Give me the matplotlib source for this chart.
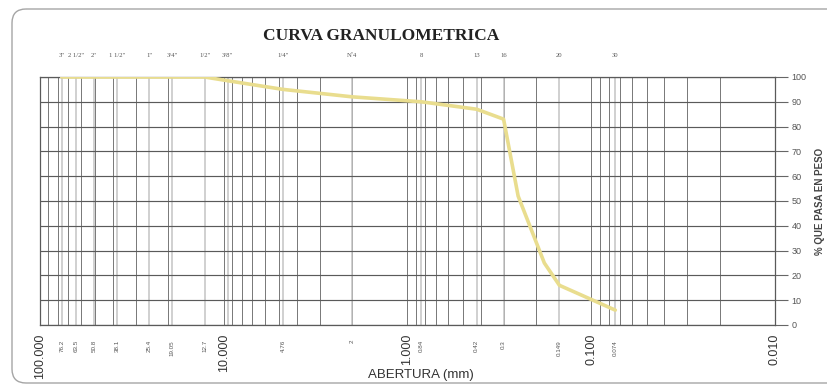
import numpy as np
import matplotlib
matplotlib.use("Agg")
import matplotlib.pyplot as plt
from matplotlib.patches import FancyBboxPatch
from matplotlib import transforms

# ---- data ----
sieve_mm = [76.2, 63.5, 50.8, 38.1, 25.4, 19.05, 12.7, 9.525, 4.76, 2.0, 0.84, 0.42, 0.3, 0.149, 0.074]
top_labels = ['3"', '2 1/2"', '2"', '1 1/2"', '1"', '3/4"', '1/2"', '3/8"', '1/4"', 'Nº4', '8', '13', '16', '20', '30']
bottom_labels = ['76.2', '63.5', '50.8', '38.1', '25.4', '19.05', '12.7', '', '4.76', '2', '0.84', '0.42', '0.3', '0.149', '0.074']

curve_mm = [76.2, 63.5, 50.8, 38.1, 25.4, 19.05, 12.7, 9.525, 4.76, 2.0, 0.84, 0.42, 0.3, 0.25, 0.18, 0.149, 0.074]
curve_pct = [100, 100, 100, 100, 100, 100, 100, 98.5, 95, 92, 90, 87, 83, 52, 25, 16, 6]

decade_ticks = [100, 10, 1, 0.1, 0.01]
decade_labels = ['100.000', '10.000', '1.000', '0.100', '0.010']
pct_ticks = list(range(0, 101, 10))

W, H = 828, 387
fig = plt.figure(figsize=(W / 100, H / 100), dpi=100)
fig.patch.set_facecolor('white')

# background page frame (scan border)
bg = fig.add_axes([0, 0, 1, 1], zorder=0)
bg.set_xlim(0, W)
bg.set_ylim(H, 0)
bg.axis('off')
bg.add_patch(FancyBboxPatch((12, 9), 840, 374, boxstyle="round,pad=0,rounding_size=14",
                            fill=False, edgecolor='#a5a5a5', linewidth=1.0))

ax = fig.add_axes([40 / W, 1 - 325 / H, (775 - 40) / W, (325 - 77) / H], zorder=1)
ax.set_xscale('log')
ax.set_xlim(100, 0.01)
ax.set_ylim(0, 100)
ax.patch.set_alpha(0)

# log grid lines
grid_vals = [m * 10.0 ** e for e in range(-2, 2) for m in range(2, 10)] + [1, 10, 0.1]
for g in grid_vals:
    ax.axvline(g, color='#6e6e6e', lw=0.65, zorder=1)
# sieve lines
for s in sieve_mm:
    ax.axvline(s, color='#c4c4c4', lw=1.1, zorder=1)
# horizontal lines
for p in pct_ticks:
    ax.axhline(p, color='#5a5a5a', lw=0.85, zorder=1)

for sp in ax.spines.values():
    sp.set_color('#5a5a5a')
    sp.set_linewidth(0.9)

# curve
ax.plot(curve_mm, curve_pct, color='#e9dd8e', lw=2.6, solid_joinstyle='round',
        solid_capstyle='round', zorder=3)

# y axis on right
ax.yaxis.tick_right()
ax.set_yticks(pct_ticks)
ax.set_yticklabels([str(p) for p in pct_ticks], fontsize=6.5, color='#555555',
                   family='Liberation Sans')
ax.tick_params(axis='y', length=9, width=0.8, color='#666666', pad=3)
ax.yaxis.set_label_position('right')
ax.set_ylabel('% QUE PASA EN PESO', fontsize=7, fontweight='bold', color='#444444',
              family='Liberation Sans', labelpad=6)

# x axis: decade labels
ax.set_xticks(decade_ticks)
ax.set_xticklabels(decade_labels, rotation=90, fontsize=9, color='#333333',
                   family='Liberation Sans', va='top')
ax.xaxis.set_minor_locator(matplotlib.ticker.NullLocator())
ax.tick_params(axis='x', length=0, pad=6)

# sieve labels (bottom small, top sieve names)
trans = transforms.blended_transform_factory(ax.transData, ax.transAxes)
for s, lb in zip(sieve_mm, bottom_labels):
    if lb:
        ax.text(s, -0.06, lb, transform=trans, rotation=90, fontsize=4.5, color='#555555',
                ha='center', va='top', family='Liberation Sans')
for s, lb in zip(sieve_mm, top_labels):
    ax.text(s, 1.085, lb, transform=trans, fontsize=4.8, color='#555555',
            ha='center', va='center', family='Liberation Serif')

ax.set_xlabel('ABERTURA (mm)', fontsize=9.5, color='#333333', family='Liberation Sans')
ax.xaxis.set_label_coords((421 - 40) / (775 - 40), -(369 - 325) / (325 - 77))

fig.text(381 / W, 1 - 36 / H, 'CURVA GRANULOMETRICA', ha='center', va='center',
         fontsize=12.5, fontweight='bold', family='Liberation Serif', color='#222222')

fig.savefig('out.png', dpi=100)
